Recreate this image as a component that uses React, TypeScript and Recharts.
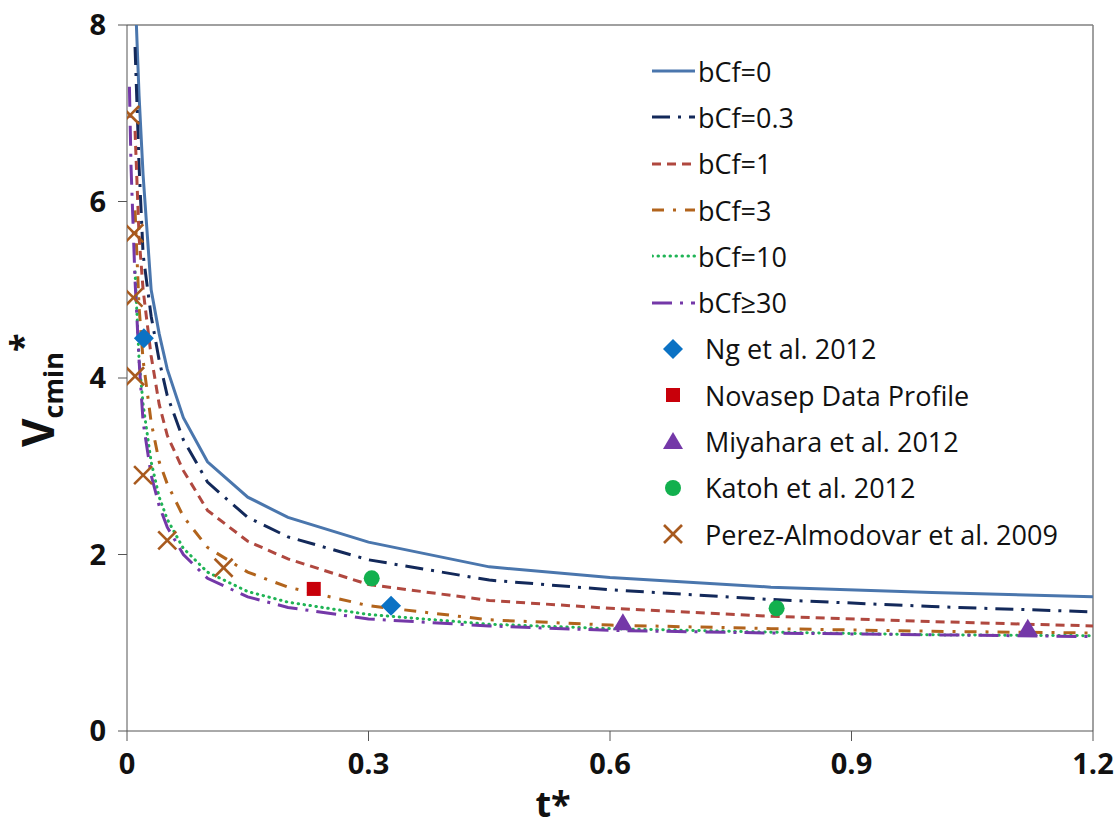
import React from 'react';
import { ComposedChart, Line, Scatter, XAxis, YAxis, ReferenceLine } from 'recharts';

// dimensionless time grid shared by the model curves
const tStar = [0.003, 0.005, 0.01, 0.015, 0.02, 0.03, 0.04, 0.05, 0.07, 0.1, 0.15, 0.2, 0.3, 0.45, 0.6, 0.8, 1.0, 1.2];

const bCf0 = [null, null, 8.4, 7.2, 6.3, 5.0, 4.5, 4.1, 3.55, 3.05, 2.65, 2.42, 2.14, 1.86, 1.74, 1.63, 1.57, 1.52];
const bCf03 = [null, null, 7.75, 6.4, 5.4, 4.7, 4.2, 3.8, 3.3, 2.82, 2.42, 2.2, 1.94, 1.71, 1.6, 1.49, 1.41, 1.35];
const bCf1 = [null, null, 6.8, 5.6, 5.0, 4.25, 3.7, 3.35, 2.95, 2.5, 2.15, 1.95, 1.66, 1.48, 1.39, 1.3, 1.24, 1.19];
const bCf3 = [null, null, 5.9, 4.8, 4.2, 3.5, 3.05, 2.8, 2.43, 2.08, 1.8, 1.63, 1.42, 1.26, 1.2, 1.16, 1.13, 1.11];
const bCf10 = [null, null, 5.2, 4.2, 3.7, 3.05, 2.65, 2.4, 2.07, 1.8, 1.58, 1.46, 1.32, 1.21, 1.16, 1.12, 1.09, 1.08];
const bCf30 = [7.3, 6.4, 5.1, 4.2, 3.5, 2.9, 2.55, 2.31, 2.0, 1.73, 1.52, 1.4, 1.27, 1.19, 1.14, 1.11, 1.09, 1.07];

// experimental points
const ngT = [0.021, 0.328];
const ngV = [4.45, 1.42];
const novasepT = [0.232];
const novasepV = [1.61];
const miyaharaT = [0.616, 1.119];
const miyaharaV = [1.22, 1.16];
const katohT = [0.304, 0.807];
const katohV = [1.73, 1.39];
const perezT = [0.004, 0.009, 0.008, 0.01, 0.02, 0.05, 0.12];
const perezV = [6.98, 5.64, 4.91, 4.02, 2.9, 2.16, 1.85];

const xTicks = [0, 0.3, 0.6, 0.9, 1.2];
const yTicks = [0, 2, 4, 6, 8];

const chartData = tStar.map((t, i) => ({
  t,
  b0: bCf0[i],
  b03: bCf03[i],
  b1: bCf1[i],
  b3: bCf3[i],
  b10: bCf10[i],
  b30: bCf30[i],
}));

const pts = (ts: number[], vs: number[]) => ts.map((t, i) => ({ t, v: vs[i] }));

const FONT = '"Open Sans", sans-serif';

const lineSeries = [
  { key: 'b0', name: 'bCf=0', color: '#4a76ad', dash: undefined, cap: 'butt' },
  { key: 'b03', name: 'bCf=0.3', color: '#13295a', dash: '18 8 3 8', cap: 'butt' },
  { key: 'b1', name: 'bCf=1', color: '#b0483f', dash: '9 6', cap: 'butt' },
  { key: 'b3', name: 'bCf=3', color: '#b2641c', dash: '12 9 3 9', cap: 'butt' },
  { key: 'b10', name: 'bCf=10', color: '#1fb455', dash: '0.5 5.5', cap: 'round' },
  { key: 'b30', name: 'bCf≥30', color: '#7438a8', dash: '20 8 3 8', cap: 'butt' },
];

const Diamond = ({ cx, cy, fill }: any) => (
  <path d={`M${cx},${cy - 10}L${cx + 10},${cy}L${cx},${cy + 10}L${cx - 10},${cy}Z`} fill={fill} />
);
const Square = ({ cx, cy, fill }: any) => <rect x={cx - 7} y={cy - 7} width={14} height={14} fill={fill} />;
const Triangle = ({ cx, cy, fill }: any) => (
  <path d={`M${cx},${cy - 10}L${cx + 10},${cy + 7}L${cx - 10},${cy + 7}Z`} fill={fill} />
);
const Dot = ({ cx, cy, fill }: any) => <circle cx={cx} cy={cy} r={8} fill={fill} />;
const XMark = ({ cx, cy, fill }: any) => (
  <g stroke={fill} strokeWidth={2.6}>
    <line x1={cx - 9} y1={cy - 9} x2={cx + 9} y2={cy + 9} />
    <line x1={cx - 9} y1={cy + 9} x2={cx + 9} y2={cy - 9} />
  </g>
);

const scatterSeries = [
  { name: 'Ng et al. 2012', data: pts(ngT, ngV), color: '#0b72c4', shape: Diamond },
  { name: 'Novasep Data Profile', data: pts(novasepT, novasepV), color: '#c8000a', shape: Square },
  { name: 'Miyahara et al. 2012', data: pts(miyaharaT, miyaharaV), color: '#7438a8', shape: Triangle },
  { name: 'Katoh et al. 2012', data: pts(katohT, katohV), color: '#12b04e', shape: Dot },
  { name: 'Perez-Almodovar et al. 2009', data: pts(perezT, perezV), color: '#a85a1e', shape: XMark },
];

// legend drawn on top of the plot, inside the frame
const ChartLegend = () => (
  <div
    style={{
      position: 'absolute',
      left: 652,
      top: 48,
      fontFamily: FONT,
      fontSize: 27,
      color: '#111',
      lineHeight: 1,
    }}
  >
    {lineSeries.map((s) => (
      <div key={s.key} style={{ display: 'flex', alignItems: 'center', height: 46.3 }}>
        <svg width={46} height={12}>
          <line x1={0} y1={6} x2={43} y2={6} stroke={s.color} strokeWidth={3}
            strokeDasharray={s.dash} strokeLinecap={s.cap as any} />
        </svg>
        <span>{s.name}</span>
      </div>
    ))}
    {scatterSeries.map((s) => {
      const Shape = s.shape;
      return (
        <div key={s.name} style={{ display: 'flex', alignItems: 'center', height: 46.3 }}>
          <svg width={53} height={24}>
            <Shape cx={21} cy={12} fill={s.color} />
          </svg>
          <span>{s.name}</span>
        </div>
      );
    })}
  </div>
);

const tickStyle = { fontFamily: FONT, fontWeight: 700, fontSize: 29, fill: '#111' };

export default function App() {
  return (
    <div style={{ position: 'absolute', left: 0, top: 0, width: 1120, height: 832, background: '#fff' }}>
      <ComposedChart
        width={1120}
        height={832}
        data={chartData}
        margin={{ top: 25, right: 27, left: 67, bottom: 31 }}
      >
        <XAxis
          dataKey="t"
          type="number"
          domain={[0, 1.2]}
          ticks={xTicks}
          allowDataOverflow
          stroke="#555"
          tickSize={10}
          tickMargin={12}
          height={70}
          tick={tickStyle}
          label={{
            content: () => (
              <text x={553} y={817} textAnchor="middle" fontFamily={FONT} fontWeight={700} fontSize={36} fill="#111">
                t*
              </text>
            ),
          }}
        />
        <YAxis
          type="number"
          domain={[0, 8]}
          ticks={yTicks}
          allowDataOverflow
          stroke="#555"
          tickSize={9}
          tickMargin={12}
          width={60}
          tick={tickStyle}
          label={{
            content: () => (
              <text transform="translate(54,447) rotate(-90)" textAnchor="start" fontFamily={FONT} fontWeight={700} fontSize={44} fill="#111">
                <tspan>V</tspan>
                <tspan fontSize={27} dy={9}>cmin</tspan>
                <tspan fontSize={34} dy={-28}>*</tspan>
              </text>
            ),
          }}
        />
        <ReferenceLine y={8} stroke="#808080" strokeWidth={1.5} />
        <ReferenceLine x={1.2} stroke="#808080" strokeWidth={1.5} />
        {lineSeries.map((s) => (
          <Line
            key={s.key}
            dataKey={s.key}
            name={s.name}
            type="linear"
            stroke={s.color}
            strokeWidth={3}
            strokeDasharray={s.dash}
            strokeLinecap={s.cap as any}
            dot={false}
            activeDot={false}
            isAnimationActive={false}
          />
        ))}
        {scatterSeries.map((s) => (
          <Scatter
            key={s.name}
            name={s.name}
            data={s.data}
            dataKey="v"
            fill={s.color}
            shape={s.shape}
            isAnimationActive={false}
          />
        ))}
      </ComposedChart>
      <ChartLegend />
    </div>
  );
}
